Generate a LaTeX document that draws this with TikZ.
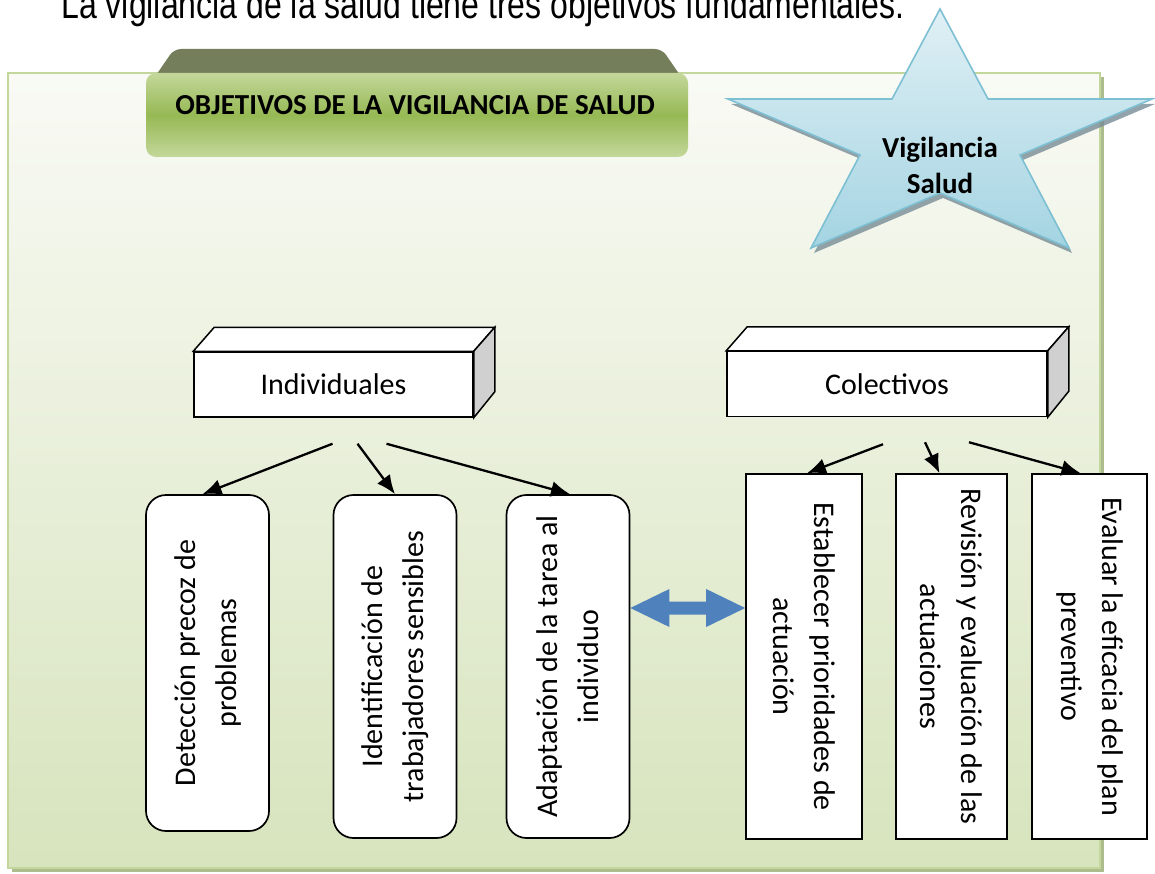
\documentclass[tikz,border=0pt]{standalone}
\usepackage{fontspec}
\setmainfont{Carlito}
\newfontfamily\arialfont{Liberation Sans}[FakeStretch=0.8]
\usetikzlibrary{calc,arrows.meta}
\definecolor{paneltop}{RGB}{249,250,245}
\definecolor{panelbot}{RGB}{215,228,189}
\definecolor{panelline}{RGB}{195,214,155}
\definecolor{panelshadow}{RGB}{172,188,140}
\definecolor{tabdark}{RGB}{116,126,90}
\definecolor{tablight}{RGB}{196,215,155}
\definecolor{tabmid}{RGB}{150,185,84}
\definecolor{starlight}{RGB}{224,240,245}
\definecolor{stardark}{RGB}{164,212,226}
\definecolor{starline}{RGB}{125,192,211}
\definecolor{starshadow}{RGB}{120,140,150}
\definecolor{sideface}{RGB}{208,208,208}
\definecolor{linkblue}{RGB}{79,129,189}
\begin{document}
\begin{tikzpicture}[x=1pt,y=-1pt,
    txt/.style={font=\fontsize{30}{41}\selectfont},
    cube/.style={txt,draw,line width=1.5pt,fill=white,minimum height=65pt},
    ibox/.style={txt,draw,line width=1.7pt,fill=white,rounded corners=20pt,align=center,rotate=90,minimum height=123pt},
    cbox/.style={txt,draw,line width=1.7pt,fill=white,align=center,rotate=-90},
    arr/.style={-{Latex[length=19pt,width=16pt]},line width=2.3pt}]
    \useasboundingbox (0,0) rectangle (1155,874);
    \begin{scope}
        \clip (0,0) rectangle (1155,874);
        \node (intro)[anchor=base west,font=\arialfont\fontsize{40}{46}\selectfont] at (58,19) {La vigilancia de la salud tiene tres objetivos fundamentales.};
    \end{scope}
    % panel
    \fill[panelshadow] (12,77) rectangle (1104,872);
    \shadedraw[top color=paneltop,bottom color=panelbot,draw=panelline,line width=1.2pt] (8,73) rectangle (1100,868);
    % title tab
    \fill[tabdark,rounded corners=7pt] (150,84) -- (174,49) -- (662,49) -- (686,84) -- cycle;
    \shade[top color=tablight,bottom color=tablight,middle color=tabmid,rounded corners=10pt] (146,73) rectangle (688,157);
    \node (head)[anchor=base,font=\bfseries\fontsize{29}{34}\selectfont] at (415,115) {OBJETIVOS DE LA VIGILANCIA DE SALUD};
    % star
    \fill[starshadow,opacity=.8,shift={(3,5)}] (940,9) -- (988,99) -- (1152,99) -- (1020,155) -- (1069,248) -- (940,193) -- (811,248) -- (860,155) -- (728,99) -- (892,99) -- cycle;
    \shadedraw[top color=starlight,bottom color=stardark,draw=starline,line width=1.6pt] (940,9) -- (988,99) -- (1152,99) -- (1020,155) -- (1069,248) -- (940,193) -- (811,248) -- (860,155) -- (728,99) -- (892,99) -- cycle;
    \node (star)[align=center,font=\bfseries\fontsize{29}{36}\selectfont] at (940,165) {Vigilancia\\Salud};
    % blocks
    \node (indiv)[cube,minimum width=279pt] at (333.5,384.5) {Individuales};
    \node (colect)[cube,minimum width=320pt] at (887,384) {Colectivos};
    \foreach \n in {indiv,colect}{
        \draw[line width=1.5pt,fill=white] (\n.north west) -- ++(21,-24) -- ($(\n.north east)+(21,-24)$) -- (\n.north east) -- cycle;
        \draw[line width=1.5pt,fill=sideface] (\n.north east) -- ++(21,-24) -- ($(\n.south east)+(21,-26)$) -- (\n.south east) -- cycle;
    }
    \node (b1)[ibox,minimum width=336pt] at (207.5,663) {Detección precoz de\\problemas};
    \node (b2)[ibox,minimum width=343pt] at (395,666.5) {Identificación de\\trabajadores sensibles};
    \node (b3)[ibox,minimum width=343pt] at (568,666.5) {Adaptación de la tarea al\\individuo};
    \node (b4)[cbox,minimum width=365pt,minimum height=116pt] at (804,656.5) {Establecer prioridades de\\actuación};
    \node (b5)[cbox,minimum width=365pt,minimum height=111pt] at (951.5,656.5) {Revisión y evaluación de las\\actuaciones};
    \node (b6)[cbox,minimum width=365pt,minimum height=115pt] at (1089.5,656.5) {Evaluar la eficacia del plan\\preventivo};
    % arrows
    \coordinate (i1) at ($(indiv.south)+(-1,26)$);
    \coordinate (i2) at ($(indiv.south)+(24,26)$);
    \coordinate (i3) at ($(indiv.south)+(53,26)$);
    \coordinate (c1) at ($(colect.south)+(-4,27)$);
    \coordinate (c2) at ($(colect.south)+(38,25)$);
    \coordinate (c3) at ($(colect.south)+(82,25)$);
    \draw[arr] (i1) -- ($(b1.east)+(-5,0)$);
    \draw[arr] (i2) -- (b2.east);
    \draw[arr] (i3) -- ($(b3.east)+(2,0)$);
    \draw[arr] (c1) -- ($(b4.west)+(3,0)$);
    \draw[arr] (c2) -- ($(b5.west)+(-12,0)$);
    \draw[arr] (c3) -- ($(b6.west)+(-9,0)$);
    % link
    \coordinate (la) at (b3.south |- 0,608);
    \coordinate (ra) at (b4.south |- 0,608);
    \fill[linkblue] (la) -- ++(39,-19) -- ++(0,12.5) -- ($(ra)+(-39,-6.5)$) -- ++(0,-12.5) -- (ra) -- ++(-39,19) -- ++(0,-12.5) -- ($(la)+(39,6.5)$) -- ++(0,12.5) -- cycle;
\end{tikzpicture}
\end{document}
